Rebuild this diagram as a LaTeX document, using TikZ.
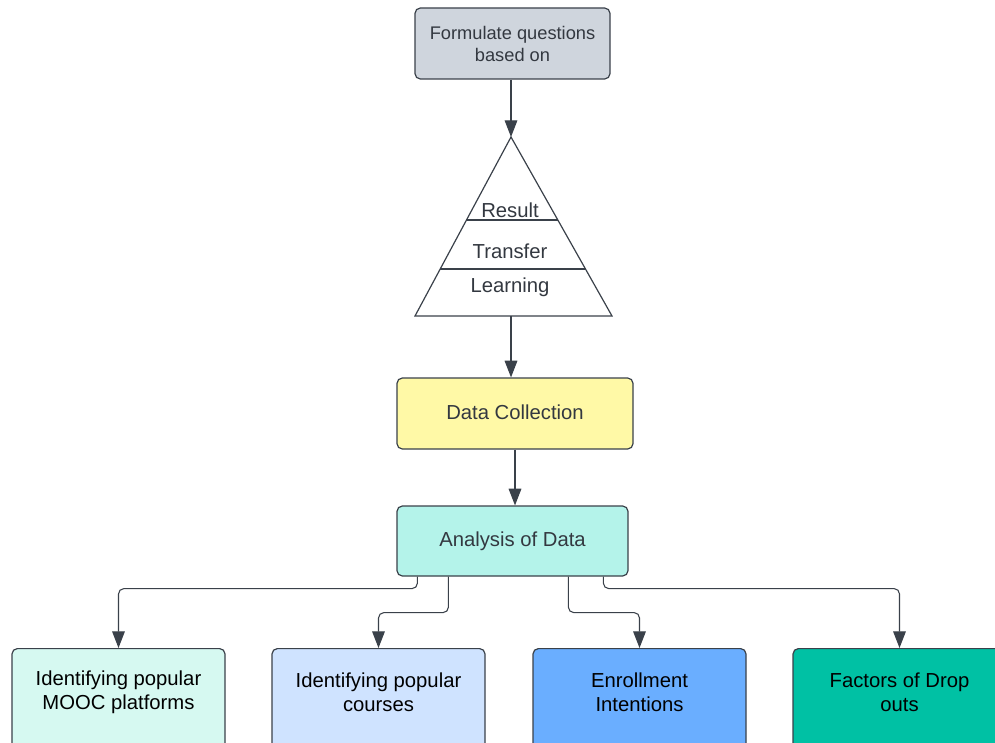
\documentclass[tikz,border=0pt]{standalone}
\usepackage{fontspec}
\setmainfont{Liberation Sans}
\usetikzlibrary{arrows.meta,calc}
\definecolor{edge}{HTML}{3A414A}
\definecolor{txtc}{HTML}{333840}
\definecolor{topf}{HTML}{CFD5DD}
\definecolor{dcf}{HTML}{FFF9A6}
\definecolor{anf}{HTML}{B4F3EA}
\definecolor{bAf}{HTML}{D6F9F1}
\definecolor{bBf}{HTML}{CFE3FF}
\definecolor{bCf}{HTML}{6AAEFF}
\definecolor{bDf}{HTML}{00C1A4}
\tikzset{
  boxst/.style={draw=edge, line width=0.9pt, rounded corners=4pt, align=center, inner sep=0pt, text=txtc,
    font=\fontsize{15.2}{18}\selectfont},
  botbox/.style={draw=edge, line width=0.9pt, rounded corners=4pt, inner sep=0pt, minimum width=213*0.75pt, minimum height=100*0.75pt, anchor=north},
  bottxt/.style={align=center, text=black, font=\fontsize{15.2}{18}\selectfont},
  tri/.style={text=txtc, font=\fontsize{15.2}{18}\selectfont},
  conn/.style={draw=edge, line width=0.8pt, rounded corners=4pt, -{Triangle[length=12.5pt,width=9.5pt]}},
}
\begin{document}
\begin{tikzpicture}[x=0.75pt,y=-0.75pt]
\useasboundingbox (0,0) rectangle (995,742);
\begin{scope}
\clip (0,0) rectangle (995,742);
% top box
\node[boxst, fill=topf, minimum width=195*0.75pt, minimum height=71*0.75pt,
  font=\fontsize{13.7}{16.5}\selectfont] (top) at (512.5,43.5) {Formulate questions\\based on};
% triangle
\coordinate (apex) at (511,137);
\coordinate (bl) at (415,316);
\coordinate (br) at (612,316);
\coordinate (bm) at (511,316);
\draw[draw=edge, line width=0.9pt, line join=miter] (apex) -- (bl) -- (br) -- cycle;
\draw[draw=edge, line width=0.9pt] ($(apex)!0.4637!(bl)$) -- ($(apex)!0.4637!(br)$);
\draw[draw=edge, line width=0.9pt] ($(apex)!0.7374!(bl)$) -- ($(apex)!0.7374!(br)$);
\node[tri] (res) at (510,210) {Result};
\node[tri] (trf) at (510,251) {Transfer};
\node[tri] (lrn) at (510,287) {Learning};
% data collection
\node[boxst, fill=dcf, minimum width=236*0.75pt, minimum height=71*0.75pt] (dc) at (515,413.5) {\raisebox{2pt}{Data Collection}};
% analysis
\node[boxst, fill=anf, minimum width=231*0.75pt, minimum height=70*0.75pt] (an) at (512.5,541) {\raisebox{1pt}{Analysis of Data}};
% bottom boxes
\node[botbox, fill=bAf] (b1) at (118.5,648) {};
\node[botbox, fill=bBf] (b2) at (378.5,648) {};
\node[botbox, fill=bCf] (b3) at (639.5,648) {};
\node[botbox, fill=bDf] (b4) at (899.5,648) {};
\node[bottxt] (t1) at (118.5,692) {Identifying popular\\MOOC platforms};
\node[bottxt] (t2) at (378.5,692) {Identifying popular\\courses};
\node[bottxt] (t3) at (639.5,692) {Enrollment\\Intentions};
\node[bottxt] (t4) at (899.5,692) {Factors of Drop\\outs};
% connectors
\draw[conn] (top.south -| apex) -- (apex);
\draw[conn] (bm) -- (bm |- dc.north);
\draw[conn] (dc.south) -- (dc.south |- an.north);
\draw[conn] ($(an.south west)+(21,0)$) -- ++(0,12) -| (b1.north);
\draw[conn] ($(an.south west)+(52,0)$) -- ++(0,36) -| (b2.north);
\draw[conn] ($(an.south west)+(172,0)$) -- ++(0,36) -| (b3.north);
\draw[conn] ($(an.south west)+(207,0)$) -- ++(0,12) -| (b4.north);
\end{scope}
\end{tikzpicture}
\end{document}
